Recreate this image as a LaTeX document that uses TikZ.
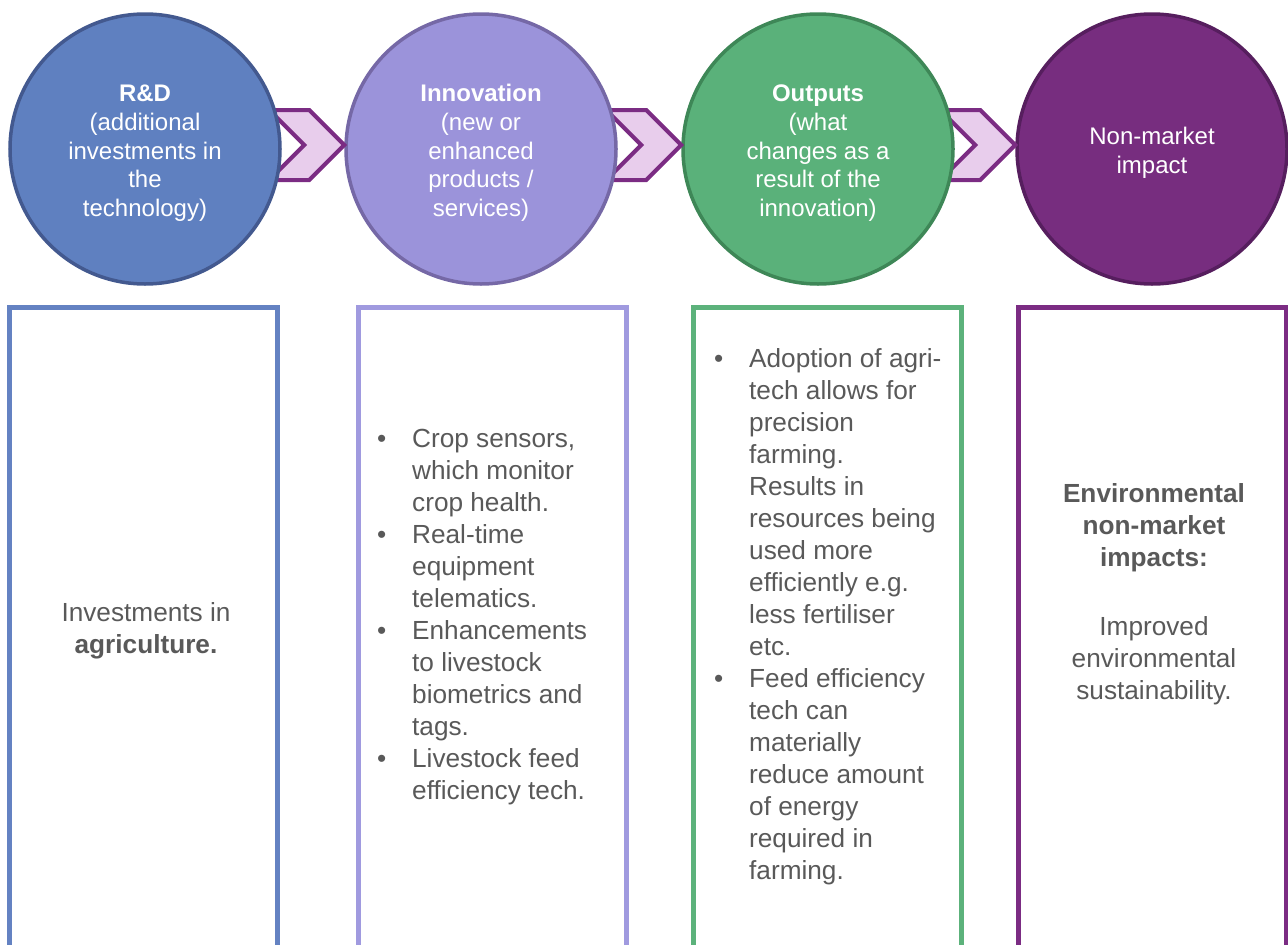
\documentclass[tikz,border=0pt]{standalone}
\usepackage{fontspec}
\setmainfont{Liberation Sans}
\usetikzlibrary{positioning}
\definecolor{rdfill}{HTML}{5F80C0}
\definecolor{rdline}{HTML}{43598F}
\definecolor{rdbox}{HTML}{6482C2}
\definecolor{innofill}{HTML}{9B93DA}
\definecolor{innoline}{HTML}{7568A6}
\definecolor{innobox}{HTML}{A09ADF}
\definecolor{outfill}{HTML}{5AB17A}
\definecolor{outline}{HTML}{3E8757}
\definecolor{outbox}{HTML}{5CB27B}
\definecolor{nmfill}{HTML}{772D7F}
\definecolor{nmline}{HTML}{561E5E}
\definecolor{nmbox}{HTML}{7B2C83}
\definecolor{chevfill}{HTML}{E8CDEC}
\definecolor{chevline}{HTML}{7B2C83}
\definecolor{textgrey}{HTML}{595959}
\tikzset{
    stage/.style={circle, minimum size=270pt, inner sep=0pt, line width=3.5pt,
        text=white, align=center, font=\fontsize{24}{28.7}\selectfont},
    panel/.style={rectangle, draw, line width=5pt, minimum width=268pt,
        minimum height=641pt, inner sep=0pt},
    chev/.style={draw=chevline, fill=chevfill, line width=4pt, line join=miter},
    bodytext/.style={text=textgrey, inner sep=0pt,
        font=\fontsize{26.2}{32}\selectfont}
}
\newcommand{\blt}{\makebox[35pt][l]{\textbullet}}
\newcommand{\ind}{\hspace*{35pt}}
\newcommand{\topgap}{\rule{0pt}{25pt}}

\begin{document}
\begin{tikzpicture}[x=1pt, y=-1pt]
\useasboundingbox (0,0) rectangle (1288,945);

% stages, right to left so each chevron sits under the circle before it
\node[stage, fill=nmfill, draw=nmline] (c4) at (1152,149)
  {\topgap Non-market\\impact};
\draw[chev] ([yshift=4pt]c4.west) -- ++(-35,-35) -- ++(-40,0) -- ++(35,35)
  -- ++(-35,35) -- ++(40,0) -- cycle;
\node[stage, fill=outfill, draw=outline] (c3) at (818,149)
  {\topgap\textbf{Outputs}\\(what\\changes as a\\result of the\\innovation)};
\draw[chev] ([yshift=4pt]c3.west) -- ++(-35,-35) -- ++(-40,0) -- ++(35,35)
  -- ++(-35,35) -- ++(40,0) -- cycle;
\node[stage, fill=innofill, draw=innoline] (c2) at (481,149)
  {\topgap\textbf{Innovation}\\(new or\\enhanced\\products /\\services)};
\draw[chev] ([yshift=4pt]c2.west) -- ++(-35,-35) -- ++(-40,0) -- ++(35,35)
  -- ++(-35,35) -- ++(40,0) -- cycle;
\node[stage, fill=rdfill, draw=rdline] (c1) at (145,149)
  {\topgap\textbf{R\&D}\\(additional\\investments in\\the\\technology)};

% panels
\node[panel, draw=rdbox] (b1) at (143.75,627.5) {};
\node[panel, draw=innobox] (b2) at (492,627.5) {};
\node[panel, draw=outbox] (b3) at (827.75,627.5) {};
\node[panel, draw=nmbox] (b4) at (1152.5,627.5) {};

\node[bodytext, align=center, anchor=north] (t1) at (146,598.6)
  {\strut Investments in\\\textbf{agriculture.}};
\node[bodytext, align=left, anchor=north west] (t2) at (377,424.6)
  {\strut\blt Crop sensors,\\\ind which monitor\\\ind crop health.\\
   \blt Real-time\\\ind equipment\\\ind telematics.\\
   \blt Enhancements\\\ind to livestock\\\ind biometrics and\\\ind tags.\\
   \blt Livestock feed\\\ind efficiency tech.};
\node[bodytext, align=left, anchor=north west] (t3) at (714,344.6)
  {\strut\blt Adoption of agri-\\\ind tech allows for\\\ind precision\\
   \ind farming.\\\ind Results in\\\ind resources being\\\ind used more\\
   \ind efficiently e.g.\\\ind less fertiliser\\\ind etc.\\
   \blt Feed efficiency\\\ind tech can\\\ind materially\\\ind reduce amount\\
   \ind of energy\\\ind required in\\\ind farming.};
\node[bodytext, align=center, anchor=north] (t4) at (1154,479.6)
  {\strut\textbf{Environmental}\\\textbf{non-market}\\\textbf{impacts:}\\[37pt]
   Improved\\environmental\\sustainability.};
\end{tikzpicture}
\end{document}
